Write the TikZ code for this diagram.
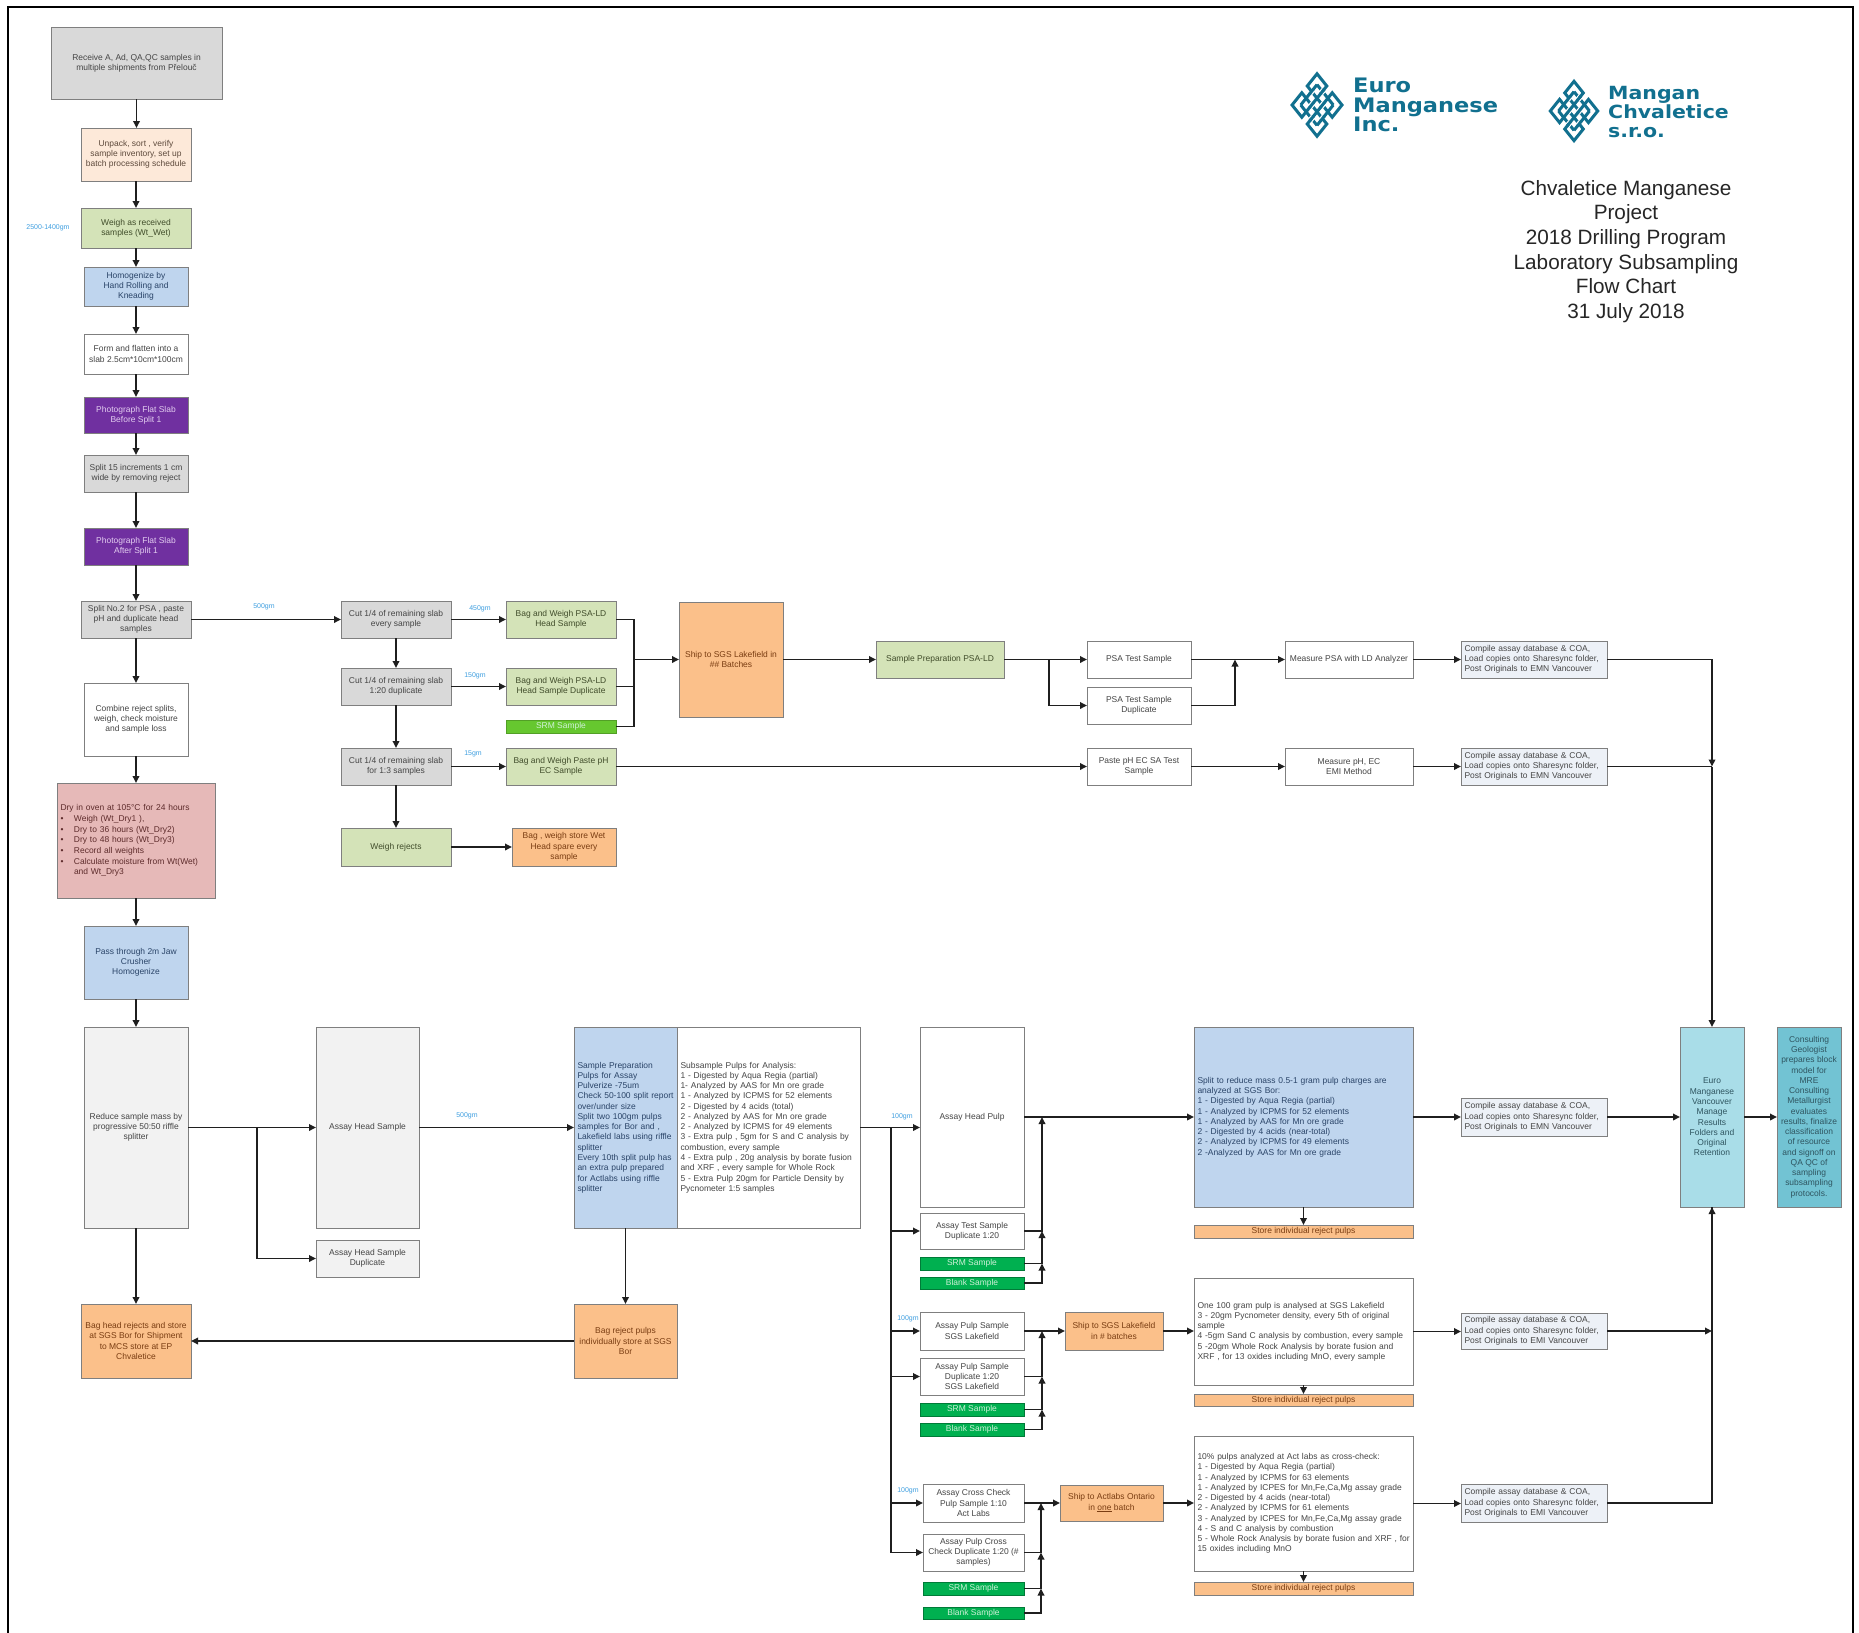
\documentclass[tikz,border=0pt]{standalone}
\usepackage{fontspec}
\setmainfont{Liberation Sans}
\newfontfamily\logofont[FakeStretch=1.13]{DejaVu Sans}
\usetikzlibrary{arrows.meta,calc}
\definecolor{bdr}{HTML}{7F7F7F}
\definecolor{txt}{HTML}{454545}
\definecolor{gry}{HTML}{D9D9D9}
\definecolor{lgry}{HTML}{F2F2F2}
\definecolor{pch}{HTML}{FDE9D9}
\definecolor{grn}{HTML}{D4E3B8}
\definecolor{blu}{HTML}{BFD5EE}
\definecolor{pur}{HTML}{7030A0}
\definecolor{pnk}{HTML}{E6B9B8}
\definecolor{org}{HTML}{FBC08A}
\definecolor{sgr}{HTML}{00B050}
\definecolor{lgr}{HTML}{66C72F}
\definecolor{cmp}{HTML}{EDF1F7}
\definecolor{cyn}{HTML}{A9DDE8}
\definecolor{tea}{HTML}{72C3D3}
\definecolor{logo}{HTML}{11708F}
\definecolor{lab}{HTML}{3F9FE0}
\definecolor{tpch}{HTML}{5E4A3C}
\definecolor{tgrn}{HTML}{414D2B}
\definecolor{tblu}{HTML}{2A4468}
\definecolor{tpur}{HTML}{E3CDF0}
\definecolor{tpnk}{HTML}{5E2C2C}
\definecolor{torg}{HTML}{7A3D12}
\definecolor{tsrm}{HTML}{CFF0D8}
\definecolor{tcyn}{HTML}{2F5560}
\tikzset{
  bx/.style={draw=bdr,line width=0.9bp,inner sep=0pt,outer sep=0pt,align=center,text=txt,
    font=\fontsize{8.5}{10.3}\selectfont},
  lft/.style={bx,align=left,inner xsep=3.5bp},
  fgray/.style={fill=gry},
  flgray/.style={fill=lgry},
  fpeach/.style={fill=pch,text=tpch},
  fgreen/.style={fill=grn,text=tgrn},
  fblue/.style={fill=blu,text=tblu},
  fpurple/.style={fill=pur,text=tpur},
  fwhite/.style={fill=white},
  fpink/.style={fill=pnk,text=tpnk,font=\fontsize{8.5}{10.7}\selectfont},
  forange/.style={fill=org,text=torg},
  fsrm/.style={fill=sgr,text=tsrm,draw=sgr!70!black},
  fsrml/.style={fill=lgr,text=tsrm,draw=lgr!80!black},
  fcomp/.style={fill=cmp},
  fcyan/.style={fill=cyn,text=tcyn},
  fteal/.style={fill=tea,text=tcyn},
  lbl/.style={inner sep=0pt,outer sep=0pt,text=lab,font=\fontsize{7}{8}\selectfont},
  arr/.style={line width=1.7bp,draw=black!88,-{Triangle[length=7bp,width=6.5bp]}},
  ln/.style={line width=1.7bp,draw=black!88},
  frm/.style={line width=2bp,draw=black},
  ttl/.style={align=center,inner sep=0pt,text=black!85,font=\fontsize{20.8}{24.8}\selectfont},
  lgo/.style={align=left,inner sep=0pt,anchor=west,text=logo,font=\logofont\bfseries\fontsize{20}{19.3}\selectfont}
}
\newcommand\B[7]{\node[bx,#6,minimum width={(#4-#2)*1bp},minimum height={(#5-#3)*1bp}] (#1) at ({(#2+#4)/2},{(#3+#5)/2}) {#7};}
\newcommand\LB[7]{\node[lft,#6,text width={(#4-#2-7)*1bp},minimum height={(#5-#3)*1bp}] (#1) at ({(#2+#4)/2},{(#3+#5)/2}) {#7};}
\newcommand\HA[2]{\draw[arr] (#1.east) -- (#1.east -| #2.west);}
\newcommand\VA[2]{\draw[arr] (#1.south) -- (#1.south |- #2.north);}
\newcommand\knot[4]{%
 \begin{scope}[shift={(#1,#2)},xscale=#3,yscale=#4]
 \begin{scope}[rotate=45,scale=4.8]
  \draw[logo,line width=3bp]
    (-3,-3) -- (3,-3) (-3,-1) -- (3,-1) (-3,1) -- (3,1) (-3,3) -- (3,3);
  \draw[logo,line width=3bp]
    (-3,-3) -- (-3,3) (-1,-3) -- (-1,3) (1,-3) -- (1,3) (3,-3) -- (3,3);
  \foreach \p/\q in {-1/-1,1/1,-3/1,1/-3,-1/3,3/-1}{
    \draw[white,line width=5.4bp] (\p-0.5,\q) -- (\p+0.5,\q);
    \draw[logo,line width=3bp] (\p-0.7,\q) -- (\p+0.7,\q);}
  \draw[logo,line width=3bp] (3,1) -- (4.6,1) -- (4.6,4.6) -- (1,4.6) -- (1,3)
    (-3,-1) -- (-4.6,-1) -- (-4.6,-4.6) -- (-1,-4.6) -- (-1,-3)
    (-1,3) -- (-1,4.6) -- (-4.6,4.6) -- (-4.6,1) -- (-3,1)
    (1,-3) -- (1,-4.6) -- (4.6,-4.6) -- (4.6,-1) -- (3,-1);
 \end{scope}
 \end{scope}}
\begin{document}
\begin{tikzpicture}[x=1bp,y=-1bp]
\useasboundingbox (0,0) rectangle (1859,1633);
\fill[white] (0,0) rectangle (1859,1633);
% frame
\coordinate (f1) at (8,1633);\coordinate (f2) at (8,7);\coordinate (f3) at (1853,7);\coordinate (f4) at (1853,1633);
\draw[frm] (f1) -- (f2) -- (f3) -- (f4);
% logos and title
\knot{1317}{105}{0.8}{1}
\node[lgo] (logoA) at (1353,105) {Euro\\Manganese\\Inc.};
\knot{1574}{111}{0.76}{0.95}
\node[lgo,font=\logofont\bfseries\fontsize{18.2}{19.5}\selectfont] (logoB) at (1608,112) {Mangan\\Chvaletice\\s.r.o.};
\node[ttl] (title) at (1626,251.5) {Chvaletice Manganese\\Project\\2018 Drilling Program\\Laboratory Subsampling\\Flow Chart\\31 July 2018};
% left column
\B{receive}{51}{27}{222}{99}{fgray}{Receive  A, Ad, QA,QC samples in\\multiple shipments from Přelouč}
\B{unpack}{81}{128}{191}{181}{fpeach}{Unpack, sort , verify\\sample inventory,  set up\\batch processing schedule}
\B{weigh}{81}{208}{191}{248}{fgreen}{Weigh as received\\samples (Wt\_Wet)}
\B{homog}{84}{267}{188}{306}{fblue}{Homogenize by\\Hand Rolling and\\Kneading}
\B{form}{84}{334}{188}{374}{fwhite}{Form and flatten into a\\slab 2.5cm*10cm*100cm}
\B{photoa}{84}{397}{188}{433}{fpurple}{Photograph Flat Slab\\Before Split 1}
\B{splita}{84}{455}{188}{492}{fgray}{Split  15 increments 1 cm\\wide by removing reject}
\B{photob}{84}{528}{188}{565}{fpurple}{Photograph Flat Slab\\After Split 1}
\B{splitb}{81}{601}{191}{638}{fgray}{Split No.2 for PSA , paste\\pH and duplicate head\\samples}
\B{combine}{84}{683}{188}{756}{fwhite}{Combine reject splits,\\weigh, check moisture\\and sample loss}
\LB{dry}{57}{783}{215}{898}{fpink}{Dry in oven at 105°C for 24 hours\\
\textbullet\hspace{10.5bp}Weigh (Wt\_Dry1 ),\\
\textbullet\hspace{10.5bp}Dry to 36 hours (Wt\_Dry2)\\
\textbullet\hspace{10.5bp}Dry to 48 hours (Wt\_Dry3)\\
\textbullet\hspace{10.5bp}Record all weights\\
\textbullet\hspace{10.5bp}\makebox[133bp][s]{Calculate moisture from Wt(Wet)}\\
\hspace{13.5bp}and Wt\_Dry3}
\B{pass}{84}{926}{188}{999}{fblue}{Pass through 2m Jaw\\Crusher\\Homogenize}
\B{reduce}{84}{1027}{188}{1228}{flgray}{Reduce sample mass by\\progressive 50:50 riffle\\splitter}
\B{assayh}{316}{1027}{419}{1228}{flgray}{Assay Head Sample}
\B{assayd}{316}{1240}{419}{1277}{flgray}{Assay Head Sample\\Duplicate}
\B{baghead}{81}{1304}{191}{1378}{forange}{Bag head rejects and store\\at SGS Bor for Shipment\\to MCS store at EP\\Chvaletice}
\B{bagrej}{574}{1304}{677}{1378}{forange}{Bag reject pulps\\individually store at SGS\\Bor}
% upper branch
\B{cuta}{341}{601}{451}{638}{fgray}{Cut 1/4 of remaining slab\\every sample}
\B{cutb}{341}{668}{451}{705}{fgray}{Cut 1/4 of remaining slab\\1:20 duplicate}
\B{cutc}{341}{748}{451}{785}{fgray}{Cut 1/4 of remaining slab\\for 1:3  samples}
\B{wrej}{341}{828}{451}{866}{fgreen}{Weigh rejects}
\B{baga}{506}{601}{616}{638}{fgreen}{Bag and Weigh PSA-LD\\Head Sample}
\B{bagb}{506}{668}{616}{705}{fgreen}{Bag and Weigh PSA-LD\\Head Sample Duplicate}
\B{srmz}{506}{720}{616}{733}{fsrml}{SRM Sample}
\B{bagc}{506}{748}{616}{785}{fgreen}{Bag and Weigh Paste pH\\EC Sample}
\B{bagw}{512}{828}{616}{866}{forange}{Bag , weigh store  Wet\\Head spare  every\\sample}
\B{shipa}{679}{602}{783}{717}{forange}{Ship to SGS Lakefield in\\\#\# Batches}
\B{prepa}{876}{641}{1004}{678}{fgreen}{Sample Preparation PSA-LD}
\B{psa}{1087}{641}{1191}{678}{fwhite}{PSA Test Sample}
\B{psad}{1087}{687}{1191}{724}{fwhite}{PSA Test Sample\\Duplicate}
\B{paste}{1087}{748}{1191}{785}{fwhite}{Paste pH EC SA Test\\Sample}
\B{mpsa}{1285}{641}{1413}{678}{fwhite}{Measure PSA with LD Analyzer}
\B{mph}{1285}{748}{1413}{785}{fwhite}{Measure pH, EC\\EMI Method}
\LB{compa}{1461}{641}{1607}{678}{fcomp}{Compile assay database \& COA,\\Load copies onto Sharesync folder,\\Post Originals to EMN Vancouver}
\LB{compb}{1461}{748}{1607}{785}{fcomp}{Compile assay database \& COA,\\Load copies onto Sharesync folder,\\Post Originals to EMN Vancouver}
% lower branch
\LB{prep}{574}{1027}{677}{1228}{fblue}{Sample Preparation\\Pulps for Assay\\Pulverize -75um\\\mbox{Check 50-100 split report}\\over/under size\\Split two 100gm pulps\\samples for Bor and ,\\\mbox{Lakefield labs using riffle}\\splitter\\\mbox{Every 10th split pulp has}\\an extra pulp prepared\\for Actlabs using riffle\\splitter}
\LB{subs}{677}{1027}{860}{1228}{fwhite}{Subsample Pulps for Analysis:\\1 - Digested by Aqua Regia (partial)\\1- Analyzed by AAS for Mn ore grade\\1 - Analyzed by ICPMS for 52 elements\\2 - Digested by 4 acids (total)\\2 - Analyzed by AAS for Mn ore grade\\2 - Analyzed by ICPMS for 49 elements\\3 - Extra pulp , 5gm for S and C analysis by\\combustion, every sample\\4 - Extra pulp , 20g analysis by borate fusion\\and XRF , every sample for Whole Rock\\5 - Extra Pulp 20gm for Particle Density by\\Pycnometer 1:5  samples}
\B{pulp}{920}{1027}{1024}{1207}{fwhite}{Assay Head Pulp}
\B{testa}{920}{1213}{1024}{1249}{fwhite}{Assay Test Sample\\Duplicate 1:20}
\B{srma}{920}{1257}{1024}{1270}{fsrm}{SRM Sample}
\B{blka}{920}{1277}{1024}{1289}{fsrm}{Blank Sample}
\B{sgs}{920}{1312}{1024}{1350}{fwhite}{Assay Pulp Sample\\SGS Lakefield}
\B{sgsd}{920}{1358}{1024}{1395}{fwhite}{Assay Pulp Sample\\Duplicate 1:20\\SGS Lakefield}
\B{srmb}{920}{1403}{1024}{1416}{fsrm}{SRM Sample}
\B{blkb}{920}{1423}{1024}{1436}{fsrm}{Blank Sample}
\B{cross}{923}{1484}{1024}{1522}{fwhite}{Assay Cross Check\\Pulp Sample 1:10\\Act Labs}
\B{crossd}{923}{1534}{1024}{1571}{fwhite}{Assay Pulp Cross\\Check Duplicate 1:20 (\#\\samples)}
\B{srmc}{923}{1582}{1024}{1595}{fsrm}{SRM Sample}
\B{blkc}{923}{1607}{1024}{1619}{fsrm}{Blank Sample}
\B{shipb}{1065}{1312}{1163}{1350}{forange}{Ship to SGS Lakefield\\in \# batches}
\B{shipc}{1060}{1485}{1163}{1521}{forange}{Ship to Actlabs Ontario\\in \underline{one} batch}
\LB{bora}{1194}{1027}{1413}{1207}{fblue}{Split to reduce mass 0.5-1 gram pulp charges are\\analyzed at SGS Bor:\\1 - Digested by Aqua Regia (partial)\\1 - Analyzed by ICPMS for 52 elements\\1 - Analyzed by AAS for Mn ore grade\\2 - Digested by 4 acids (near-total)\\2 - Analyzed by ICPMS for 49 elements\\2 -Analyzed by AAS for Mn ore grade}
\B{storea}{1194}{1225}{1413}{1238}{forange}{Store individual reject pulps}
\LB{lake}{1194}{1278}{1413}{1385}{fwhite}{One 100 gram pulp is analysed at  SGS Lakefield\\3 -  20gm Pycnometer density, every 5th of original\\sample\\\mbox{4 -5gm  Sand C analysis by combustion, every sample}\\5 -20gm  Whole Rock Analysis by borate fusion and\\XRF , for 13 oxides including MnO, every sample}
\B{storeb}{1194}{1394}{1413}{1406}{forange}{Store individual reject pulps}
\LB{act}{1194}{1436}{1413}{1571}{fwhite}{10\% pulps analyzed at Act labs as cross-check:\\1 - Digested by Aqua Regia (partial)\\1 - Analyzed by ICPMS for 63 elements\\1 - Analyzed by ICPES for Mn,Fe,Ca,Mg assay grade\\2 - Digested by 4 acids (near-total)\\2 - Analyzed by ICPMS for 61 elements\\3 - Analyzed by ICPES for Mn,Fe,Ca,Mg assay grade\\4 - S and C analysis by combustion\\\mbox{5 - Whole Rock Analysis by borate fusion and XRF , for}\\15 oxides including MnO}
\B{storec}{1194}{1582}{1413}{1595}{forange}{Store individual reject pulps}
\LB{compc}{1461}{1098}{1607}{1136}{fcomp}{Compile assay database \& COA,\\Load copies onto Sharesync folder,\\Post Originals to EMN Vancouver}
\LB{compd}{1461}{1313}{1607}{1349}{fcomp}{Compile assay database \& COA,\\Load copies onto Sharesync folder,\\Post Originals to EMI Vancouver}
\LB{compe}{1461}{1484}{1607}{1522}{fcomp}{Compile assay database \& COA,\\Load copies onto Sharesync folder,\\Post Originals to EMI Vancouver}
\B{euro}{1680}{1027}{1744}{1207}{fcyan}{Euro\\Manganese\\Vancouver\\Manage\\Results\\Folders and\\Original\\Retention}
\B{cons}{1777}{1027}{1841}{1207}{fteal}{Consulting\\Geologist\\prepares block\\model for\\MRE\\Consulting\\Metallurgist\\evaluates\\results, finalize\\classification\\of resource\\and signoff on\\QA QC of\\sampling\\subsampling\\protocols.}
% small labels
\node[lbl] (la) at (48,228) {2500-1400gm};
\node[lbl] (lb) at (264,607) {500gm};
\node[lbl] (lc) at (480,609) {450gm};
\node[lbl] (ld) at (475,676) {150gm};
\node[lbl] (le) at (473,754) {15gm};
\node[lbl] (lf) at (467,1116) {500gm};
\node[lbl] (lg) at (902,1117) {100gm};
\node[lbl] (lh) at (908,1319) {100gm};
\node[lbl] (li) at (908,1491) {100gm};
% junction columns
\coordinate (mS) at (634,0);
\coordinate (jP) at (1049,0);
\coordinate (mP) at (1235,0);
\coordinate (jH) at (257,0);
\coordinate (jA) at (891,0);
\coordinate (mA) at (1042,0);
\coordinate (mB) at (1042,0);
\coordinate (mC) at (1041,0);
\coordinate (rV) at (1712,0);
% left column connectors
\VA{receive}{unpack}\VA{unpack}{weigh}\VA{weigh}{homog}\VA{homog}{form}\VA{form}{photoa}
\VA{photoa}{splita}\VA{splita}{photob}\VA{photob}{splitb}\VA{splitb}{combine}\VA{combine}{dry}
\VA{dry}{pass}\VA{pass}{reduce}\VA{reduce}{baghead}
\HA{reduce}{assayh}
\draw[arr] (reduce.east -| jH) |- (assayd.west);
\HA{assayh}{prep}
\VA{prep}{bagrej}
\draw[arr] (bagrej.west) -- (bagrej.west -| baghead.east);
% upper branch connectors
\HA{splitb}{cuta}\HA{cuta}{baga}\HA{cutb}{bagb}\HA{cutc}{bagc}
\VA{cuta}{cutb}\VA{cutb}{cutc}\VA{cutc}{wrej}
\HA{wrej}{bagw}
\draw[ln] (baga.east) -| (srmz.east -| mS) -- (srmz.east);
\draw[ln] (bagb.east) -- (bagb.east -| mS);
\draw[arr] (shipa.west -| mS) -- (shipa.west);
\HA{shipa}{prepa}\HA{prepa}{psa}
\draw[arr] (psa.west -| jP) |- (psad.west);
\HA{psa}{mpsa}
\draw[arr] (psad.east) -| (psa.east -| mP);
\HA{mpsa}{compa}\HA{bagc}{paste}\HA{paste}{mph}\HA{mph}{compb}
\draw[arr] (compa.east) -| (compb.east -| rV);
\draw[ln] (compb.east) -- (compb.east -| rV);
\draw[arr] (compb.east -| rV) -- (euro.north -| rV);
% lower branch connectors
\HA{subs}{pulp}
\draw[ln] (subs.east -| jA) -- (crossd.west -| jA);
\draw[arr] (testa.west -| jA) -- (testa.west);
\draw[arr] (sgs.west -| jA) -- (sgs.west);
\draw[arr] (sgsd.west -| jA) -- (sgsd.west);
\draw[arr] (cross.west -| jA) -- (cross.west);
\draw[arr] (crossd.west -| jA) -- (crossd.west);
\draw[arr] (blka.east) -| (srma.east -| mA);
\draw[arr] (srma.east) -| (testa.east -| mA);
\draw[arr] (testa.east) -| (pulp.east -| mA);
\HA{pulp}{bora}
\draw[arr] (blkb.east) -| (srmb.east -| mB);
\draw[arr] (srmb.east) -| (sgsd.east -| mB);
\draw[arr] (sgsd.east) -| (sgs.east -| mB);
\HA{sgs}{shipb}
\draw[arr] (blkc.east) -| (srmc.east -| mC);
\draw[arr] (srmc.east) -| (crossd.east -| mC);
\draw[arr] (crossd.east) -| (cross.east -| mC);
\HA{cross}{shipc}
\HA{shipb}{lake}\HA{shipc}{act}
\VA{bora}{storea}\VA{lake}{storeb}\VA{act}{storec}
\HA{bora}{compc}\HA{lake}{compd}\HA{act}{compe}
\HA{compc}{euro}\HA{euro}{cons}
\draw[arr] (compd.east) -- (compd.east -| rV);
\draw[ln] (compe.east) -| (euro.south -| rV);
\draw[arr] (compd.east -| rV) -- (euro.south -| rV);
\end{tikzpicture}
\end{document}
